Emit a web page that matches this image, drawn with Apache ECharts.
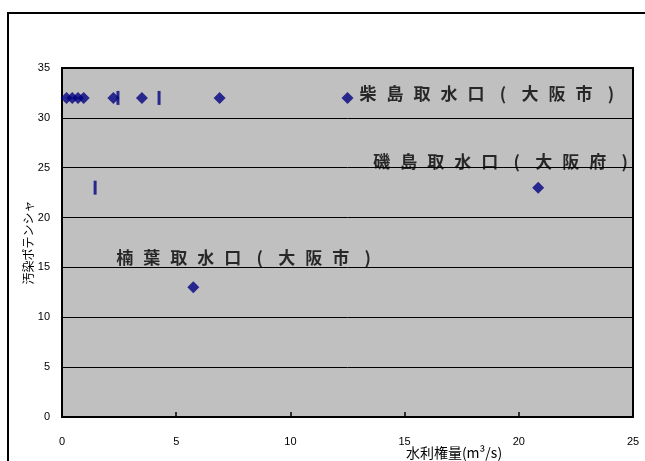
<!DOCTYPE html>
<html><head><meta charset="utf-8">
<script src="https://cdn.jsdelivr.net/npm/echarts@6/dist/echarts.min.js"></script>
<style>html,body{margin:0;padding:0;background:#fff}#c{width:645px;height:461px}</style>
</head><body><div id="c"></div>
<script>
// diamond series (水利権量, 汚染ポテンシャル)
const diamondX = [0.2, 0.45, 0.7, 0.95, 2.25, 3.5, 6.9, 12.5, 20.85, 5.75];
const diamondY = [32, 32, 32, 32, 32, 32, 32, 32, 23, 13];
const diamondNames = ['', '', '', '', '', '', '', '柴島取水口(大阪市)', '磯島取水口(大阪府)', '楠葉取水口(大阪市)'];
// dash marker series
const dashX = [2.45, 4.25, 1.45];
const dashY = [32, 32, 23];
const xTicks = [0, 5, 10, 15, 20, 25];
const yTicks = [0, 5, 10, 15, 20, 25, 30, 35];
const xName = '水利権量(m³/s)';
const yName = '汚染ポテンシャ';

const labelOffsets = {7: [142, -4], 8: [-35, -26], 9: [53, -30]};
const spaced = s => Array.from(s).map(ch => '{c|' + ch + '}').join('');
const diamondData = diamondX.map((x, i) => {
  const d = {value: [x, diamondY[i]], name: diamondNames[i]};
  if (labelOffsets[i]) {
    d.label = {show: true, position: 'inside', offset: labelOffsets[i],
      formatter: p => spaced(p.name),
      rich: {c: {width: 27, align: 'center', color: '#000',
        fontFamily: 'Noto Sans CJK JP', fontWeight: 'bold', fontSize: 17}}};
  }
  return d;
});

const chart = echarts.init(document.getElementById('c'), null, {renderer: 'canvas'});
chart.setOption({
  animation: false,
  backgroundColor: '#fff',
  graphic: [{type: 'rect', shape: {x: 8, y: 13, width: 700, height: 500},
    style: {fill: 'none', stroke: '#000', lineWidth: 2}, z: -1}],
  grid: {left: 62, right: 12, top: 68, bottom: 44, show: true, outerBoundsMode: 'none',
    containLabel: false,
    backgroundColor: '#C0C0C0', borderColor: '#000', borderWidth: 2},
  xAxis: {type: 'value', min: xTicks[0], max: xTicks[xTicks.length - 1], interval: 5,
    name: xName, nameLocation: 'middle', nameGap: 29, nameMoveOverlap: false,
    nameTextStyle: {fontFamily: 'Noto Sans CJK JP', fontSize: 14, color: '#000', padding: [0, 0, 0, 213]},
    axisLine: {lineStyle: {color: '#000', width: 2}},
    axisTick: {inside: true, length: 5, lineStyle: {color: '#000', width: 1.5}},
    axisLabel: {margin: 19, fontFamily: 'Liberation Sans', fontSize: 11, color: '#000'},
    splitLine: {show: false}},
  yAxis: {type: 'value', min: yTicks[0], max: yTicks[yTicks.length - 1], interval: 5,
    name: yName, nameLocation: 'middle', nameGap: 28, nameRotate: 90, nameMoveOverlap: false,
    nameTextStyle: {fontFamily: 'Noto Sans CJK JP', fontSize: 12, color: '#000'},
    axisLine: {lineStyle: {color: '#000', width: 2}},
    axisTick: {show: false},
    axisLabel: {margin: 12, fontFamily: 'Liberation Sans', fontSize: 11, color: '#000'},
    splitLine: {lineStyle: {color: '#000', width: 1}}},
  series: [
    {type: 'scatter', symbol: 'diamond', symbolSize: 12, itemStyle: {color: '#000080'},
      data: diamondData, z: 3},
    {type: 'scatter', symbol: 'rect', symbolSize: [3, 14], itemStyle: {color: '#000080'},
      data: dashX.map((x, i) => [x, dashY[i]]), z: 3}
  ]
});
</script></body></html>
